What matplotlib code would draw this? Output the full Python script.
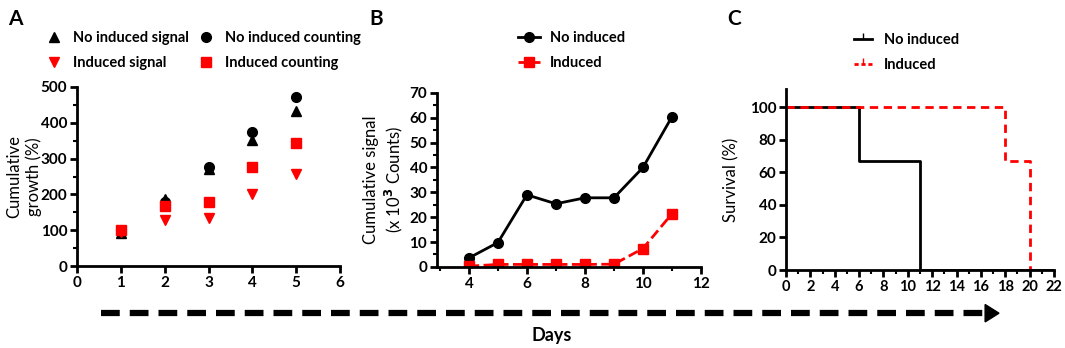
import matplotlib.pyplot as plt
import numpy as np
from matplotlib.lines import Line2D
from matplotlib.ticker import MultipleLocator

plt.rcParams['font.family'] = ['Lato', 'DejaVu Sans']
plt.rcParams['font.weight'] = 'bold'

# panel A: cumulative growth (%)
days_a = [1, 2, 3, 4, 5]
no_ind_signal = [91, 187, 270, 352, 432]
no_ind_count = [100, 179, 276, 373, 471]
ind_signal = [96, 128, 133, 201, 256]
ind_count = [100, 169, 178, 277, 344]

# panel B: cumulative signal (x10^3 counts)
days_b = [4, 5, 6, 7, 8, 9, 10, 11]
sig_no_ind = [3.6, 9.8, 29.0, 25.4, 27.8, 27.8, 40.0, 60.4]
sig_ind = [0.3, 1.0, 1.0, 1.0, 1.0, 1.1, 7.4, 21.4]

# panel C: survival (%)
surv_days_no = [0, 6, 11, 22]
surv_no = [100, 66.7, 0, 0]
surv_days_ind = [0, 18, 20]
surv_ind = [100, 66.7, 0]

fig = plt.figure(figsize=(10.65, 3.48), dpi=100)
axA = fig.add_axes([0.0723, 0.2356, 0.2470, 0.5144])
axB = fig.add_axes([0.4103, 0.2330, 0.2479, 0.5000])
axC = fig.add_axes([0.7380, 0.2240, 0.2517, 0.5200])

def style(ax):
    for s in ['top', 'right']:
        ax.spines[s].set_visible(False)
    for s in ['left', 'bottom']:
        ax.spines[s].set_linewidth(2)
    ax.tick_params(which='major', width=2, length=5, labelsize=11, pad=2)
    ax.tick_params(which='minor', width=1.5, length=3)

# A
axA.plot(days_a, no_ind_signal, '^', color='black', ms=7, label='No induced signal')
axA.plot(days_a, ind_signal, 'v', color='red', ms=7, label='Induced signal')
axA.plot(days_a, no_ind_count, 'o', color='black', ms=7, label='No induced counting')
axA.plot(days_a, ind_count, 's', color='red', ms=7, label='Induced counting')
axA.set_xlim(0, 6)
axA.set_ylim(0, 500)
axA.set_xticks(range(0, 7))
axA.yaxis.set_minor_locator(MultipleLocator(50))
axA.set_ylabel('Cumulative\ngrowth (%)', fontsize=12, fontweight='normal')
axA.yaxis.set_label_coords(-0.133, 0.5)
style(axA)
fig.legend(handles=axA.get_lines(), ncol=2, loc='center left',
           bbox_to_anchor=(0.030, 0.855), bbox_transform=fig.transFigure,
           frameon=False, fontsize=10.5, handlelength=1.2, handletextpad=0.7,
           columnspacing=0.6, labelspacing=0.75)

# B
axB.plot(days_b, sig_no_ind, '-o', color='black', lw=2, ms=7, label='No induced')
axB.plot(days_b, sig_ind, '--s', color='red', lw=2, ms=7, label='Induced')
axB.set_xlim(2.9, 12)
axB.set_ylim(0, 70)
axB.set_xticks([4, 6, 8, 10, 12])
axB.xaxis.set_minor_locator(MultipleLocator(1))
axB.yaxis.set_major_locator(MultipleLocator(10))
axB.yaxis.set_minor_locator(MultipleLocator(5))
axB.set_ylabel('Cumulative signal\n(x 10$^3$ Counts)', fontsize=12, fontweight='normal')
axB.yaxis.set_label_coords(-0.121, 0.5)
style(axB)
fig.legend(handles=axB.get_lines(), loc='center left',
           bbox_to_anchor=(0.474, 0.855), bbox_transform=fig.transFigure,
           frameon=False, fontsize=10.5, handlelength=1.5, handletextpad=0.7,
           labelspacing=0.75)

# C
axC.step(surv_days_no, surv_no, where='post', color='black', lw=2, label='No induced')
axC.step(surv_days_ind, surv_ind, where='post', color='red', lw=2,
         ls=(0, (3, 2)), label='Induced')
axC.set_xlim(0, 22)
axC.set_ylim(0, 111)
axC.set_xticks(np.arange(0, 23, 2))
axC.set_yticks([0, 20, 40, 60, 80, 100])
axC.xaxis.set_minor_locator(MultipleLocator(1))
axC.set_ylabel('Survival (%)', fontsize=12, fontweight='normal')
axC.yaxis.set_label_coords(-0.172, 0.5)
style(axC)
axC.tick_params(axis='x', labelsize=10.5)
c_handles = [Line2D([], [], color='black', lw=2, marker=2, ms=4, label='No induced'),
             Line2D([], [], color='red', lw=2, ls=(0, (1.5, 1)), marker=2, ms=4,
                    label='Induced')]
fig.legend(handles=c_handles, loc='center left',
           bbox_to_anchor=(0.790, 0.85), bbox_transform=fig.transFigure,
           frameon=False, fontsize=10.5, handlelength=1.2, handletextpad=0.8,
           labelspacing=0.75)

# panel letters
for x, t in [(0.008, 'A'), (0.347, 'B'), (0.683, 'C')]:
    fig.text(x, 0.975, t, fontsize=15, fontweight='bold', va='top')

# Days arrow
fig.add_artist(Line2D([0.095, 0.925], [0.10, 0.10], transform=fig.transFigure,
                      color='black', lw=4.5, ls=(0, (3, 1.6))))
fig.patches.append(plt.Polygon([[0.925, 0.125], [0.938, 0.10], [0.925, 0.075]],
                               closed=True, transform=fig.transFigure,
                               facecolor='black', edgecolor='black'))
fig.text(0.518, 0.035, 'Days', fontsize=13, fontweight='bold', ha='center', va='center')

fig.savefig('out.png', dpi=100)
